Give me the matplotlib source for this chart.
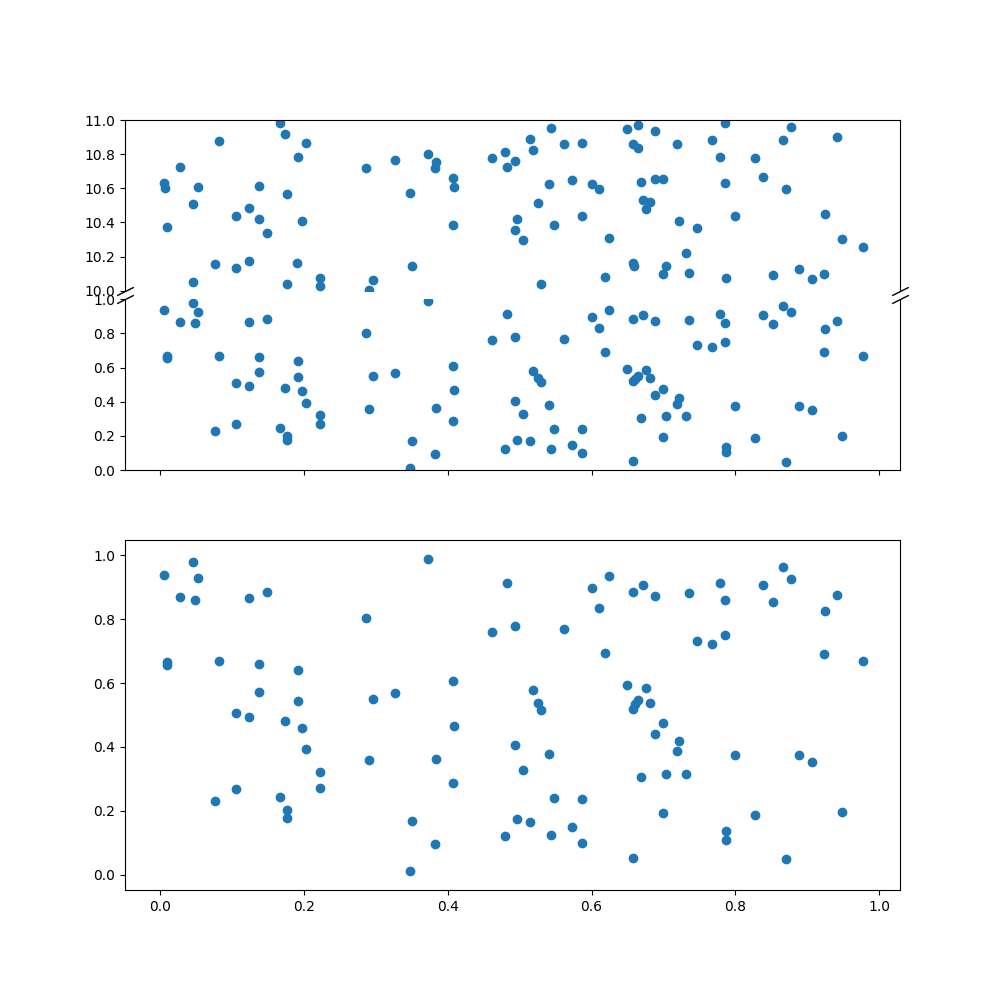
import numpy as np
import matplotlib.pyplot as plt

# points in [0, 1]
x_lo = [0.046, 0.005, 0.052, 0.027, 0.048, 0.123, 0.149, 0.009, 0.009, 0.082,
        0.138, 0.191, 0.137, 0.191, 0.105, 0.123, 0.173, 0.197, 0.203, 0.222,
        0.222, 0.105, 0.076, 0.167, 0.177, 0.177,
        0.373, 0.482, 0.286, 0.461, 0.494, 0.407, 0.296, 0.327, 0.408, 0.494,
        0.290, 0.383, 0.407, 0.504, 0.350, 0.382, 0.348, 0.496, 0.480,
        0.624, 0.600, 0.611, 0.561, 0.618, 0.657, 0.671, 0.688, 0.735, 0.779,
        0.785, 0.746, 0.767, 0.785, 0.518, 0.526, 0.530, 0.649, 0.675, 0.664,
        0.661, 0.658, 0.681, 0.699, 0.688, 0.721, 0.719, 0.541, 0.669, 0.704,
        0.732, 0.548, 0.586, 0.699, 0.514, 0.543, 0.573, 0.586, 0.657, 0.787,
        0.787,
        0.866, 0.877, 0.839, 0.852, 0.942, 0.924, 0.923, 0.977, 0.799, 0.889,
        0.906, 0.827, 0.948, 0.871]
y_lo = [0.977, 0.938, 0.927, 0.868, 0.859, 0.865, 0.884, 0.666, 0.655, 0.669,
        0.660, 0.641, 0.572, 0.544, 0.507, 0.494, 0.482, 0.460, 0.395, 0.323,
        0.271, 0.270, 0.230, 0.245, 0.202, 0.177,
        0.987, 0.912, 0.803, 0.759, 0.778, 0.607, 0.550, 0.569, 0.466, 0.407,
        0.360, 0.364, 0.286, 0.327, 0.170, 0.096, 0.012, 0.174, 0.121,
        0.935, 0.896, 0.834, 0.769, 0.694, 0.884, 0.907, 0.871, 0.881, 0.912,
        0.859, 0.731, 0.722, 0.750, 0.579, 0.536, 0.516, 0.594, 0.585, 0.548,
        0.535, 0.519, 0.536, 0.476, 0.441, 0.420, 0.388, 0.379, 0.307, 0.317,
        0.317, 0.242, 0.239, 0.195, 0.167, 0.124, 0.149, 0.099, 0.052, 0.136,
        0.108,
        0.962, 0.924, 0.907, 0.853, 0.874, 0.825, 0.691, 0.669, 0.376, 0.376,
        0.354, 0.186, 0.198, 0.049]

# points in [10, 11]
x_hi = [0.167, 0.173, 0.082, 0.203, 0.191, 0.027, 0.005, 0.007, 0.052, 0.137,
        0.177, 0.046, 0.123, 0.105, 0.138, 0.197, 0.148, 0.009, 0.076, 0.105,
        0.123, 0.190, 0.046, 0.177, 0.222, 0.222,
        0.286, 0.327, 0.373, 0.383, 0.382, 0.348, 0.407, 0.408, 0.407, 0.350,
        0.296, 0.290, 0.461, 0.480, 0.482, 0.494, 0.496, 0.494, 0.504,
        0.514, 0.518, 0.543, 0.561, 0.586, 0.649, 0.664, 0.688, 0.657, 0.664,
        0.719, 0.767, 0.779, 0.785, 0.785, 0.541, 0.573, 0.600, 0.611, 0.669,
        0.688, 0.699, 0.526, 0.671, 0.681, 0.675, 0.586, 0.548, 0.721, 0.746,
        0.624, 0.732, 0.657, 0.659, 0.704, 0.699, 0.735, 0.618, 0.530, 0.787,
        0.877, 0.866, 0.942, 0.828, 0.839, 0.871, 0.799, 0.924, 0.948, 0.977,
        0.852, 0.889, 0.906, 0.923]
y_hi = [10.984, 10.920, 10.875, 10.863, 10.786, 10.727, 10.631, 10.604, 10.610, 10.616,
        10.569, 10.510, 10.486, 10.439, 10.420, 10.406, 10.339, 10.375, 10.157, 10.133,
        10.175, 10.163, 10.051, 10.039, 10.072, 10.027,
        10.716, 10.763, 10.798, 10.753, 10.716, 10.575, 10.663, 10.610, 10.386, 10.145,
        10.063, 10.006, 10.780, 10.810, 10.727, 10.757, 10.420, 10.353, 10.300,
        10.886, 10.822, 10.951, 10.857, 10.863, 10.945, 10.969, 10.934, 10.857, 10.834,
        10.857, 10.880, 10.786, 10.984, 10.633, 10.627, 10.651, 10.627, 10.598, 10.639,
        10.657, 10.657, 10.516, 10.533, 10.522, 10.480, 10.439, 10.386, 10.410, 10.369,
        10.310, 10.222, 10.163, 10.145, 10.145, 10.098, 10.104, 10.080, 10.039, 10.075,
        10.957, 10.880, 10.898, 10.780, 10.669, 10.598, 10.439, 10.451, 10.304, 10.257,
        10.092, 10.128, 10.069, 10.098]

fig = plt.figure(figsize=(10, 10), dpi=100)
gs = fig.add_gridspec(2, 1)
top = gs[0].subgridspec(2, 1, hspace=0.05)
ax1 = fig.add_subplot(top[0])
ax2 = fig.add_subplot(top[1])
ax3 = fig.add_subplot(gs[1])

# broken axis
for ax in (ax1, ax2):
    ax.scatter(x_lo, y_lo, color='C0')
    ax.scatter(x_hi, y_hi, color='C0')
ax1.set_ylim(10, 11)
ax2.set_ylim(0, 1)

ax1.spines['bottom'].set_visible(False)
ax2.spines['top'].set_visible(False)
ax1.tick_params(bottom=False, labelbottom=False)
ax2.tick_params(labelbottom=False)

d = .5
kw = dict(marker=[(-1, -d), (1, d)], markersize=12,
          linestyle='none', color='k', mec='k', mew=1, clip_on=False)
ax1.plot([0, 1], [0, 0], transform=ax1.transAxes, **kw)
ax2.plot([0, 1], [1, 1], transform=ax2.transAxes, **kw)

ax3.scatter(x_lo, y_lo)
ax3.set_ylim(-0.047, 1.047)

for ax in (ax1, ax2, ax3):
    ax.set_xlim(-0.049, 1.029)

plt.savefig('out.png')
